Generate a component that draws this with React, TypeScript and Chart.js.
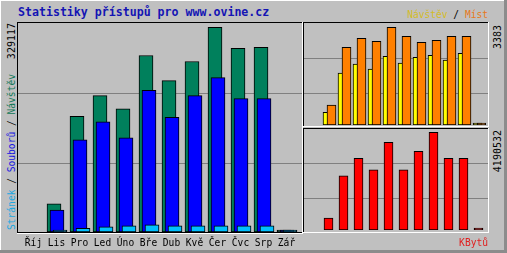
import React, { useEffect, useRef } from "react";
import { Chart, registerables } from "chart.js";

Chart.register(...registerables);

// ---------- data ----------
const MONTHS = ["Říj", "Lis", "Pro", "Led", "Úno", "Bře", "Dub", "Kvě", "Čer", "Čvc", "Srp", "Zář"];

// left panel (green / blue / cyan)
const NAVSTEV_MAIN = [null, 45240, 185800, 219250, 198250, 283880, 243480, 274180, 329117, 295190, 296800, 0];
const SOUBORU = [null, 35060, 148160, 177240, 151390, 227810, 184190, 219250, 248330, 214400, 214400, 0];
const STRANEK = [null, 0, 5900, 8100, 9700, 11300, 9700, 9700, 9700, 9700, 9700, 0];

// upper right panel (yellow / orange)
const NAVSTEV = [null, 435, 1795, 2106, 1933, 2382, 2140, 2347, 2416, 2244, 2485, 0];
const MIST = [null, 690, 2693, 3003, 2900, 3383, 3072, 2865, 2934, 3072, 3072, 0];

// lower right panel (red)
const KBYTU = [null, 513100, 2321900, 3078700, 2578400, 3762900, 2578400, 3378000, 4190532, 3078700, 3078700, 0];

// labels / scale tops
const TITLE = "Statistiky přístupů pro www.ovine.cz";
const MAIN_MAX_LABEL = "329117";
const VISITS_MAX_LABEL = "3383";
const KB_MAX_LABEL = "4190532";
const MAIN_SCALE_MAX = 336100;
const VISITS_SCALE_MAX = 3532;
const KB_SCALE_MAX = 4332000;

// ---------- styles ----------
const MONO = '"DejaVu Sans Mono", "Liberation Mono", monospace';
const GREEN = "#00805c";
const BLUE = "#0000ff";
const CYAN = "#00c0ff";
const YELLOW = "#ffff00";
const ORANGE = "#ff8000";
const RED = "#ff0000";
const BG = "#c0c0c0";

const framePlugin = {
  id: "frame",
  beforeDatasetsDraw(chart: any, _a: any, opts: any) {
    const ctx = chart.ctx;
    ctx.save();
    ctx.fillStyle = "#808080";
    for (const gy of opts.grid) ctx.fillRect(1, gy, opts.w - 2, 1);
    ctx.restore();
  },
  afterDraw(chart: any, _a: any, opts: any) {
    const ctx = chart.ctx;
    const { w, h } = opts;
    ctx.save();
    ctx.fillStyle = "#000000";
    ctx.fillRect(0, 0, w - 1, 1);
    ctx.fillRect(0, 0, 1, h - 1);
    if (opts.bottomBlack) ctx.fillRect(0, h - 2, w - 1, 1);
    ctx.fillStyle = "#ffffff";
    ctx.fillRect(w - 1, 0, 1, h);
    ctx.fillRect(0, h - 1, w, 1);
    ctx.restore();
  },
};

function shiftedAxis(shiftPx: number, unitPx: number) {
  const s = shiftPx / unitPx;
  return {
    type: "linear",
    axis: "x",
    position: "bottom",
    display: false,
    offset: false,
    min: -0.5 - s,
    max: MONTHS.length - 0.5 - s,
  };
}

const pts = (arr: (number | null)[]) => MONTHS.map((_, i) => ({ x: i, y: arr[i] }));

function barStyle(thickness: number) {
  return {
    barThickness: thickness,
    borderWidth: 1,
    borderColor: "#000000",
    borderSkipped: false,
    grouped: false,
    minBarLength: 2,
  };
}

const baseOptions = {
  responsive: false,
  animation: false,
  devicePixelRatio: 1,
  events: [],
};

function mainConfig(): any {
  return {
    type: "bar",
    data: {
      labels: MONTHS,
      datasets: [
        { label: "Návštěv", data: pts(NAVSTEV_MAIN), xAxisID: "xg", backgroundColor: GREEN, order: 3, ...barStyle(14) },
        { label: "Souborů", data: pts(SOUBORU), xAxisID: "xb", backgroundColor: BLUE, order: 2, ...barStyle(14) },
        { label: "Stránek", data: pts(STRANEK), xAxisID: "xc", backgroundColor: CYAN, order: 1, ...barStyle(14) },
      ],
    },
    options: {
      ...baseOptions,
      layout: { padding: { left: 5, right: 5, top: 1, bottom: 3.5 } },
      scales: {
        x: {
          type: "category",
          offset: true,
          grid: { display: false, drawTicks: false },
          border: { display: false },
          ticks: {
            color: "#000000",
            font: { family: MONO, size: 9.6 },
            padding: 6,
            maxRotation: 0,
            minRotation: 0,
            autoSkip: false,
          },
        },
        xg: shiftedAxis(-2.5, 23),
        xb: shiftedAxis(0.5, 23),
        xc: shiftedAxis(3.5, 23),
        y: { display: false, min: 0, max: MAIN_SCALE_MAX },
      },
      plugins: {
        legend: { display: false },
        tooltip: { enabled: false },
        frame: { w: 286, h: 212, grid: [71, 141], bottomBlack: true },
      },
    },
    plugins: [framePlugin],
  };
}

function visitsConfig(): any {
  return {
    type: "bar",
    data: {
      labels: MONTHS,
      datasets: [
        { label: "Návštěv", data: pts(NAVSTEV), xAxisID: "xy", backgroundColor: YELLOW, order: 2, ...barStyle(9) },
        { label: "Míst", data: pts(MIST), xAxisID: "xo", backgroundColor: ORANGE, order: 1, ...barStyle(9) },
      ],
    },
    options: {
      ...baseOptions,
      layout: { padding: { left: 3, right: 3, top: 1, bottom: 2 } },
      scales: {
        x: { type: "category", display: false },
        xy: shiftedAxis(-1, 15),
        xo: shiftedAxis(3, 15),
        y: { display: false, min: 0, max: VISITS_SCALE_MAX },
      },
      plugins: {
        legend: { display: false },
        tooltip: { enabled: false },
        frame: { w: 186, h: 105, grid: [36, 71] },
      },
    },
    plugins: [framePlugin],
  };
}

function kbConfig(): any {
  return {
    type: "bar",
    data: {
      labels: MONTHS,
      datasets: [
        { label: "KBytů", data: pts(KBYTU), xAxisID: "xr", backgroundColor: RED, ...barStyle(9) },
      ],
    },
    options: {
      ...baseOptions,
      layout: { padding: { left: 3, right: 3, top: 1, bottom: 3 } },
      scales: {
        x: { type: "category", display: false },
        xr: shiftedAxis(0, 15),
        y: { display: false, min: 0, max: KB_SCALE_MAX },
      },
      plugins: {
        legend: { display: false },
        tooltip: { enabled: false },
        frame: { w: 186, h: 105, grid: [35, 70] },
      },
    },
    plugins: [framePlugin],
  };
}

function ChartCanvas(props: { left: number; top: number; width: number; height: number; make: () => any }) {
  const ref = useRef<HTMLCanvasElement>(null);
  useEffect(() => {
    const chart = new Chart(ref.current as HTMLCanvasElement, props.make());
    return () => chart.destroy();
  }, []);
  return (
    <canvas
      ref={ref}
      width={props.width}
      height={props.height}
      style={{ position: "absolute", left: props.left, top: props.top, width: props.width, height: props.height }}
    />
  );
}

function Rot(props: { left: number; top: number; size: number; align: "left" | "right"; children: React.ReactNode }) {
  return (
    <div
      style={{
        position: "absolute",
        left: props.left,
        top: props.top,
        width: 200,
        height: props.size,
        fontFamily: MONO,
        fontSize: props.size,
        lineHeight: `${props.size}px`,
        whiteSpace: "nowrap",
        textAlign: props.align,
        transformOrigin: "0 0",
        transform: "rotate(-90deg)",
        color: "#000000",
      }}
    >
      {props.children}
    </div>
  );
}

function Txt(props: { left: number; top: number; width: number; size: number; bold?: boolean; align?: "left" | "right"; color?: string; children: React.ReactNode }) {
  return (
    <div
      style={{
        position: "absolute",
        left: props.left,
        top: props.top,
        width: props.width,
        fontFamily: MONO,
        fontSize: props.size,
        fontWeight: props.bold ? "bold" : "normal",
        lineHeight: `${props.size}px`,
        whiteSpace: "nowrap",
        textAlign: props.align || "left",
        color: props.color || "#000000",
      }}
    >
      {props.children}
    </div>
  );
}

export default function App() {
  return (
    <div
      style={{
        position: "fixed",
        left: 0,
        top: 0,
        width: 507,
        height: 253,
        background: BG,
        overflow: "hidden",
      }}
    >
      {/* outer bevel */}
      <div style={{ position: "absolute", left: 0, top: 0, width: 507, height: 1, background: "#ffffff" }} />
      <div style={{ position: "absolute", left: 0, top: 0, width: 1, height: 253, background: "#ffffff" }} />
      <div style={{ position: "absolute", left: 0, top: 250, width: 507, height: 3, background: "#8c8c8c" }} />
      <div style={{ position: "absolute", left: 504, top: 0, width: 3, height: 253, background: "#8c8c8c" }} />

      <Txt left={18} top={7.2} width={300} size={11.6} bold color="#1414b4">
        {TITLE}
      </Txt>

      <ChartCanvas left={17} top={22} width={286} height={237} make={mainConfig} />
      <ChartCanvas left={303} top={22} width={186} height={105} make={visitsConfig} />
      <ChartCanvas left={303} top={128} width={186} height={105} make={kbConfig} />

      <Rot left={6.5} top={223} size={10} align="right">
        {MAIN_MAX_LABEL}
      </Rot>
      <Rot left={6.9} top={230} size={9.6} align="left">
        <span style={{ color: "#20a8e0" }}>Stránek</span>
        <span> / </span>
        <span style={{ color: "#1818e0" }}>Souborů</span>
        <span> / </span>
        <span style={{ color: "#107858" }}>Návštěv</span>
      </Rot>
      <Rot left={493.2} top={225} size={10} align="right">
        {VISITS_MAX_LABEL}
      </Rot>
      <Rot left={493.2} top={330} size={10} align="right">
        {KB_MAX_LABEL}
      </Rot>

      <Txt left={288} top={9.9} width={200} size={9.6} align="right">
        <span style={{ color: "#d4bc28" }}>Návštěv</span>
        <span> / </span>
        <span style={{ color: "#e8781c" }}>Míst</span>
      </Txt>
      <Txt left={288} top={238.4} width={200} size={9.6} align="right" color="#e02020">
        KBytů
      </Txt>
    </div>
  );
}
